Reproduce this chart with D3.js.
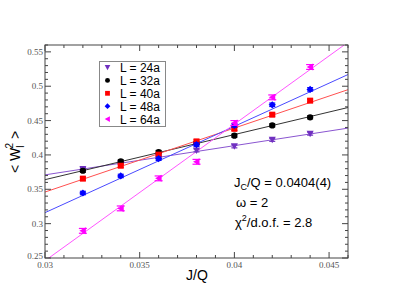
<!DOCTYPE html>
<html><head><meta charset="utf-8">
<script src="https://cdn.jsdelivr.net/npm/d3@7"></script>
<style>body{margin:0;background:#fff}svg{display:block}</style>
</head><body><svg id="c" width="393" height="304"></svg>
<script>
// ---- data ----
const xValues = [0.032, 0.034, 0.036, 0.038, 0.040, 0.042, 0.044];
const seriesNames = ["L = 24a", "L = 32a", "L = 40a", "L = 48a", "L = 64a"];
const vals24 = [0.3795, 0.388, 0.397, 0.4066, 0.4125, 0.422, 0.431];
const vals32 = [0.377, 0.3906, 0.4043, 0.417, 0.428, 0.443, 0.4547];
const vals40 = [0.3655, 0.3843, 0.4004, 0.4197, 0.438, 0.4586, 0.479];
const vals48 = [0.3446, 0.3694, 0.3945, 0.415, 0.443, 0.473, 0.4954];
const vals64 = [0.2895, 0.3222, 0.3659, 0.390, 0.4465, 0.4838, 0.528];
const errs = [0.0022, 0.0022, 0.0022, 0.0025, 0.0035];
const fitX = [0.03, 0.046];
const fit24 = [0.371, 0.439];
const fit32 = [0.364, 0.469];
const fit40 = [0.346, 0.495];
const fit48 = [0.316, 0.517];
const fit64 = [0.246, 0.564];
const xTicks = [0.03, 0.035, 0.04, 0.045];
const yTicks = [0.25, 0.3, 0.35, 0.4, 0.45, 0.5, 0.55];

const allVals = [vals24, vals32, vals40, vals48, vals64];
const allFits = [fit24, fit32, fit40, fit48, fit64];
const markColors = ["#7030c0", "#000000", "#ff0000", "#0000ff", "#ff00ff"];
const lineColors = ["#8a55d0", "#333333", "#ff5050", "#4a4aff", "#ff55ff"];
const shapes = ["down", "circle", "square", "diamond", "left"];

// ---- layout ----
const L = 45, R = 348, T = 45, B = 258;
const svg = d3.select("#c");
const x = d3.scaleLinear().domain([0.03, 0.046]).range([L, R]);
const y = d3.scaleLinear().domain([0.25, 0.56]).range([B, T]);

svg.append("defs").append("clipPath").attr("id", "clip")
  .append("rect").attr("x", L).attr("y", T).attr("width", R - L).attr("height", B - T);

// fit lines
const plot = svg.append("g").attr("clip-path", "url(#clip)");
allFits.forEach((f, i) => {
  plot.append("line")
    .attr("x1", x(fitX[0])).attr("y1", y(f[0]))
    .attr("x2", x(fitX[1])).attr("y2", y(f[1]))
    .attr("stroke", lineColors[i]).attr("stroke-width", 1);
});

function symbolPath(shape) {
  switch (shape) {
    case "down": return "M-3.5,-3L3.5,-3L0,3.5Z";
    case "circle": return d3.symbol(d3.symbolCircle, 30)();
    case "square": return "M-3,-3H3V3H-3Z";
    case "diamond": return "M0,-3.6L3.6,0L0,3.6L-3.6,0Z";
    case "left": return "M-3.5,0L3,-3.5L3,3.5Z";
  }
}

// points with error bars
allVals.forEach((vals, i) => {
  const g = svg.append("g");
  const cap = i === 4 ? 4 : 3;
  vals.forEach((v, j) => {
    const cx = x(xValues[j]);
    const y1 = y(v + errs[i]), y2 = y(v - errs[i]);
    g.append("line").attr("x1", cx).attr("x2", cx).attr("y1", y1).attr("y2", y2)
      .attr("stroke", markColors[i]).attr("stroke-width", 1.2);
    [y1, y2].forEach(yy => g.append("line").attr("x1", cx - cap).attr("x2", cx + cap)
      .attr("y1", yy).attr("y2", yy).attr("stroke", markColors[i]).attr("stroke-width", 1.2));
    g.append("path").attr("d", symbolPath(shapes[i]))
      .attr("transform", `translate(${cx},${y(v)})`).attr("fill", markColors[i]);
  });
});

// axes frame with inward ticks
const axisColor = "#444";
const fr = svg.append("g");
fr.append("rect").attr("x", L).attr("y", T).attr("width", R - L).attr("height", B - T)
  .attr("fill", "none").attr("stroke", axisColor).attr("stroke-width", 1);

const xMinor = d3.range(30, 47).map(d => d / 1000);
const yMinor = d3.range(25, 57).map(d => d / 100);
xMinor.forEach(t => {
  const major = xTicks.some(m => Math.abs(m - t) < 1e-9);
  const len = major ? 6 : 3;
  const px = x(t);
  fr.append("line").attr("x1", px).attr("x2", px).attr("y1", B).attr("y2", B - len).attr("stroke", axisColor);
  fr.append("line").attr("x1", px).attr("x2", px).attr("y1", T).attr("y2", T + len).attr("stroke", axisColor);
});
yMinor.forEach(t => {
  const major = yTicks.some(m => Math.abs(m - t) < 1e-9);
  const len = major ? 6 : 3;
  const py = y(t);
  fr.append("line").attr("x1", L).attr("x2", L + len).attr("y1", py).attr("y2", py).attr("stroke", axisColor);
  fr.append("line").attr("x1", R).attr("x2", R - len).attr("y1", py).attr("y2", py).attr("stroke", axisColor);
});

const fmt = d3.format("~g");
xTicks.forEach(t => {
  svg.append("text").attr("x", x(t)).attr("y", 268).attr("text-anchor", "middle")
    .attr("font-family", "Liberation Serif, serif").attr("font-size", 9).attr("fill", "#555")
    .text(fmt(t));
});
yTicks.forEach(t => {
  svg.append("text").attr("x", L - 2).attr("y", y(t) + (t === 0.25 ? 1 : 3)).attr("text-anchor", "end")
    .attr("font-family", "Liberation Serif, serif").attr("font-size", 9).attr("fill", "#555")
    .text(fmt(t));
});

// axis labels
svg.append("text").attr("x", 197).attr("y", 280).attr("text-anchor", "middle")
  .attr("font-family", "Liberation Sans, Arial, sans-serif").attr("font-size", 14).attr("fill", "#000")
  .text("J/Q");
const yl = svg.append("text").attr("transform", "translate(20,152) rotate(-90)")
  .attr("text-anchor", "middle")
  .attr("font-family", "Liberation Sans, Arial, sans-serif").attr("font-size", 14).attr("fill", "#000");
yl.append("tspan").text("< W");
yl.append("tspan").attr("font-size", 10).attr("dy", 4).text("l");
yl.append("tspan").attr("font-size", 10).attr("dy", -11).attr("dx", -3).text("2");
yl.append("tspan").attr("dy", 7).text(" >");

// legend
const lg = svg.append("g");
lg.append("rect").attr("x", 99.5).attr("y", 61.5).attr("width", 66).attr("height", 65)
  .attr("fill", "#fff").attr("stroke", "#888").attr("stroke-width", 1);
seriesNames.forEach((n, i) => {
  const cy = 67.5 + i * 12.9;
  lg.append("path").attr("d", symbolPath(shapes[i]))
    .attr("transform", `translate(107.5,${cy}) scale(0.8)`).attr("fill", markColors[i]);
  lg.append("text").attr("x", 120).attr("y", cy + 4.5).attr("font-size", 12)
    .attr("font-family", "Liberation Sans, Arial, sans-serif").attr("fill", "#000").text(n);
});

// annotation
const af = "Liberation Sans, Arial, sans-serif";
const a1 = svg.append("text").attr("x", 234).attr("y", 187).attr("font-family", af).attr("font-size", 13);
a1.append("tspan").text("J");
a1.append("tspan").attr("font-size", 9).attr("dy", 3).text("C");
a1.append("tspan").attr("dy", -3).text("/Q = 0.0404(4)");
svg.append("text").attr("x", 236).attr("y", 207).attr("font-family", af).attr("font-size", 13)
  .text("ω = 2");
const a3 = svg.append("text").attr("x", 235).attr("y", 227).attr("font-family", af).attr("font-size", 13);
a3.append("tspan").text("χ");
a3.append("tspan").attr("font-size", 9).attr("dy", -6).text("2");
a3.append("tspan").attr("dy", 6).text("/d.o.f. = 2.8");
</script></body></html>
